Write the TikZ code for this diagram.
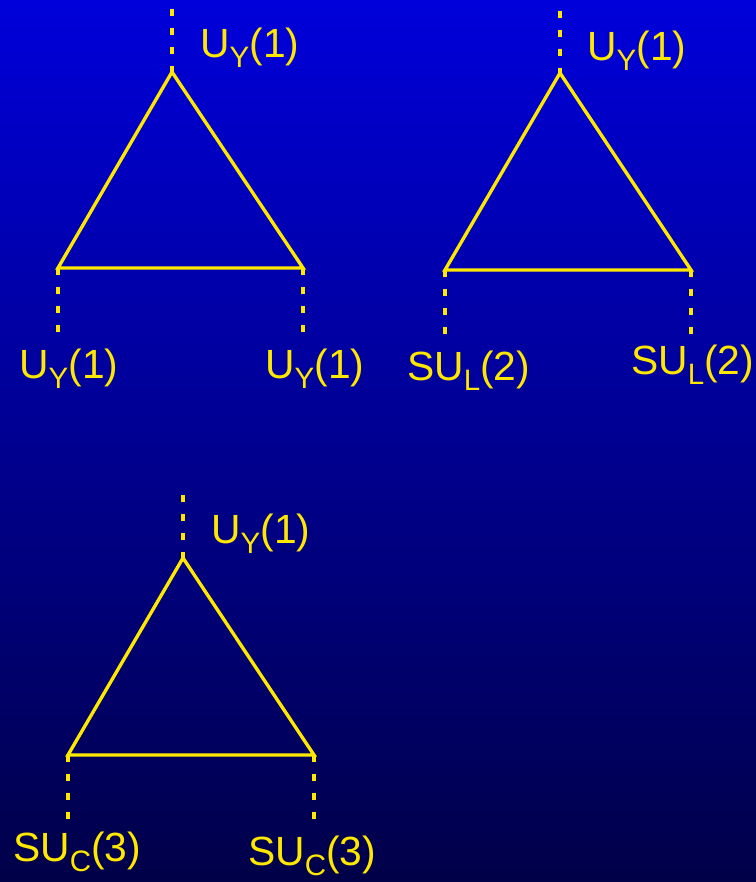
\documentclass[tikz,border=0pt]{standalone}
\usepackage{fontspec}
\setmainfont{Liberation Sans}
\usepackage{tikz}
\usetikzlibrary{positioning, calc}

\definecolor{bgtop}{RGB}{0,0,218}
\definecolor{bgbot}{RGB}{0,0,72}
\definecolor{hlyellow}{RGB}{255,232,0}

% lowered index letter
\newcommand{\idx}[1]{\raisebox{-0.26em}{\fontsize{21}{22}\selectfont #1}}

\begin{document}
\begin{tikzpicture}[x=0.025cm, y=-0.025cm,
    side/.style={draw=hlyellow, line width=2.4pt, line join=miter},
    leg/.style={draw=hlyellow, line width=2.2pt, dash pattern=on 5pt off 8.5pt},
    rep/.style={text=hlyellow, inner sep=0pt, anchor=base west, font=\fontsize{29}{30}\selectfont}]

    % Background
    \shade[top color=bgtop, bottom color=bgbot] (0,0) rectangle (756,882);
    \useasboundingbox (0,0) rectangle (756,882);

    % First triangle
    \coordinate (t1) at (172,72);
    \coordinate (l1) at (58,268);
    \coordinate (r1) at (303,268);
    \coordinate (t1e) at (172,9);
    \coordinate (l1e) at (58,333);
    \coordinate (r1e) at (303,333);
    \draw[side] (t1) -- (l1) -- (r1) -- cycle;
    \draw[leg] (t1e) -- (t1);
    \draw[leg] (l1) -- (l1e);
    \draw[leg] (r1) -- (r1e);
    \node[rep] (t1lbl) at (200,57) {U\idx{Y}(1)};
    \node[rep] (l1lbl) at (19,378) {U\idx{Y}(1)};
    \node[rep] (r1lbl) at (265,378) {U\idx{Y}(1)};

    % Second triangle
    \coordinate (t2) at (560,73);
    \coordinate (l2) at (445,270);
    \coordinate (r2) at (691,270);
    \coordinate (t2e) at (560,11);
    \coordinate (l2e) at (445,334);
    \coordinate (r2e) at (691,334);
    \draw[side] (t2) -- (l2) -- (r2) -- cycle;
    \draw[leg] (t2e) -- (t2);
    \draw[leg] (l2) -- (l2e);
    \draw[leg] (r2) -- (r2e);
    \node[rep] (t2lbl) at (587,60) {U\idx{Y}(1)};
    \node[rep] (l2lbl) at (407,380) {SU\idx{L}(2)};
    \node[rep] (r2lbl) at (631,374) {SU\idx{L}(2)};

    % Third triangle
    \coordinate (t3) at (183,558);
    \coordinate (l3) at (68,755);
    \coordinate (r3) at (314,755);
    \coordinate (t3e) at (183,495);
    \coordinate (l3e) at (68,819);
    \coordinate (r3e) at (314,819);
    \draw[side] (t3) -- (l3) -- (r3) -- cycle;
    \draw[leg] (t3e) -- (t3);
    \draw[leg] (l3) -- (l3e);
    \draw[leg] (r3) -- (r3e);
    \node[rep] (t3lbl) at (211,543) {U\idx{Y}(1)};
    \node[rep] (l3lbl) at (13,861) {SU\idx{C}(3)};
    \node[rep] (r3lbl) at (248,865) {SU\idx{C}(3)};

\end{tikzpicture}
\end{document}
